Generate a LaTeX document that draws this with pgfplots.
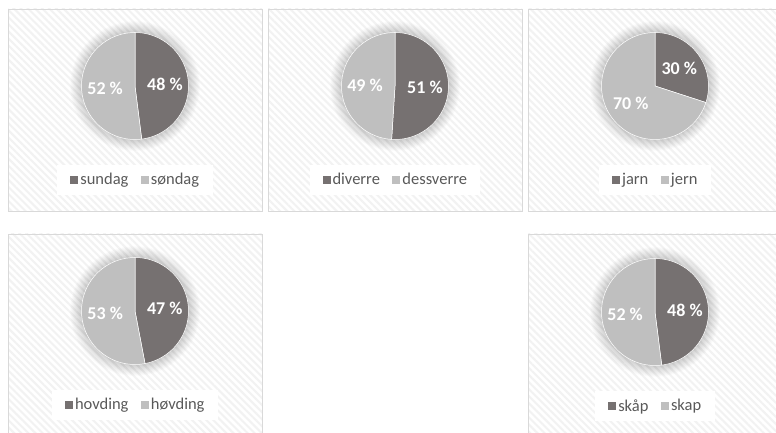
\documentclass[border=0pt]{standalone}
\usepackage{fontspec}
\setmainfont{Carlito}
\usepackage{pgfplots}
\pgfplotsset{compat=1.18}
\usetikzlibrary{patterns.meta}
\definecolor{darkslice}{HTML}{767171}
\definecolor{lightslice}{HTML}{BFBFBF}
\definecolor{legtext}{HTML}{595959}
\definecolor{framec}{HTML}{D9D9D9}

% coordinates in pt, y measured upward from bottom (page height 433)
\newcommand\panel[4]{%
  \fill[white] (#1pt,#2pt) rectangle (#3pt,#4pt);
  \fill[pattern={Lines[angle=-45,distance=5pt,line width=2pt]}, pattern color=black!5] (#1pt,#2pt) rectangle (#3pt,#4pt);
  \draw[framec, line width=0.8pt] (#1pt,#2pt) rectangle (#3pt,#4pt);
}

% #1 cx, #2 cy, #3 first value (%), #4 first name, #5 second name
\newcommand\pie[5]{%
  \foreach \k in {1,...,24} {\fill[black,opacity=0.008] (#1pt,#2pt) circle[radius={(53+0.5*\k)*1pt}];}
  \pgfmathsetmacro\A{90-3.6*#3}%
  \pgfmathsetmacro\Ma{90-1.8*#3}%
  \pgfmathsetmacro\Mb{\A-1.8*(100-#3)}%
  \pgfmathtruncatemacro\W{100-#3}%
  \begin{axis}[at={(#1pt,#2pt)}, anchor=center, width=107pt, height=107pt, scale only axis,
    xmin=-1, xmax=1, ymin=-1, ymax=1, hide axis, clip=false,
    legend columns=2,
    legend style={at={(0.5,-0.378)}, anchor=center, draw=none, fill=white,
      inner xsep=12pt, inner ysep=7pt, text=legtext,
      font=\fontsize{16.5}{16.5}\selectfont,
      nodes={inner sep=1.5pt},
      /tikz/every even column/.append style={column sep=10pt}},
    legend image code/.code={\fill[##1] (0pt,-4.5pt) rectangle (9pt,4.5pt);}]
  \addplot[fill=darkslice, draw=white, line width=0.5pt, domain=\A:90, samples=90, variable=\t]
    ({cos(\t)},{sin(\t)}) -- (axis cs:0,0) -- cycle;
  \addplot[fill=lightslice, draw=white, line width=0.5pt, domain=-270:\A, samples=90, variable=\t]
    ({cos(\t)},{sin(\t)}) -- (axis cs:0,0) -- cycle;
  \legend{#4,#5}
  \node[text=white, font=\bfseries\fontsize{18}{18}\selectfont] at (axis cs:{0.56*cos(\Ma)},{0.56*sin(\Ma)}) {#3 \%};
  \node[text=white, font=\bfseries\fontsize{18}{18}\selectfont] at (axis cs:{0.56*cos(\Mb)},{0.56*sin(\Mb)}) {\W\ \%};
  \end{axis}
}

\begin{document}
\begin{tikzpicture}
\useasboundingbox (0pt,0pt) rectangle (776pt,433pt);
\clip (0pt,0pt) rectangle (776pt,433pt);
\panel{8}{424}{262}{222}
\panel{268}{424}{522}{222}
\panel{528}{424}{782}{222}
\panel{8}{199}{262}{-7}
\panel{528}{199}{782}{-7}
\pie{135}{347}{48}{sundag}{søndag}
\pie{395}{347}{51}{diverre}{dessverre}
\pie{655}{347}{30}{jarn}{jern}
\pie{135}{122}{47}{hovding}{høvding}
\pie{655}{121}{48}{skåp}{skap}
\end{tikzpicture}
\end{document}
